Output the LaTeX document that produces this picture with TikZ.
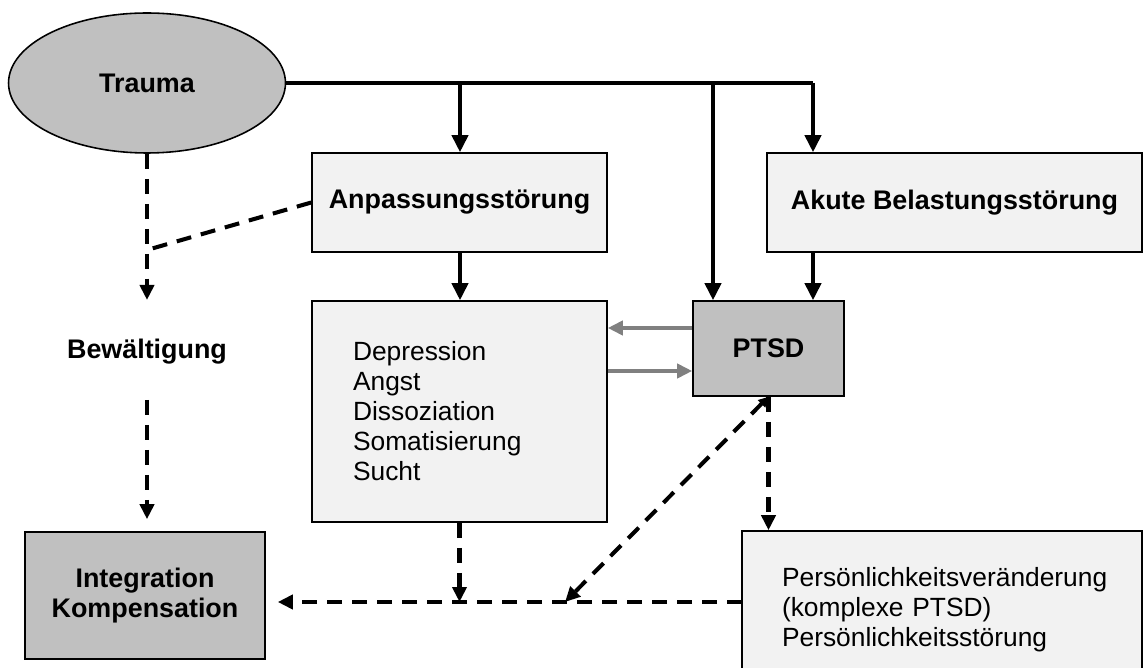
\documentclass[tikz,border=0pt]{standalone}
\usepackage{fontspec}
\setmainfont{Liberation Sans}
\usetikzlibrary{shapes.geometric,arrows.meta,calc}
\definecolor{lightfill}{HTML}{F2F2F2}
\definecolor{darkfill}{HTML}{C0C0C0}
\definecolor{arrgray}{HTML}{808080}
\begin{document}
\begin{tikzpicture}[x=0.02cm,y=-0.02cm,
  nfont/.style={font=\fontsize{15}{17.07}\selectfont},
  bfont/.style={font=\fontsize{15.3}{17.07}\selectfont\bfseries},
  lbox/.style={draw=black, line width=0.9pt, fill=lightfill, inner sep=0pt},
  gbox/.style={draw=black, line width=0.9pt, fill=darkfill, inner sep=0pt},
  solidln/.style={line width=2.2pt},
  solidarr/.style={solidln, -{Triangle[length=0.34cm,width=0.32cm]}},
  dashln/.style={line width=2.3pt, dash pattern=on 0.3cm off 0.2cm},
  dasharr/.style={dashln, -{Triangle[length=0.3cm,width=0.28cm]}},
  grayarr/.style={line width=2.2pt, draw=arrgray, -{Triangle[length=0.3cm,width=0.28cm]}}
]
\useasboundingbox (0,0) rectangle (1143,668);
\clip (0,0) rectangle (1143,668);

% nodes
\node[ellipse, draw=black, line width=0.9pt, fill=darkfill, minimum width=5.54cm, minimum height=2.8cm, inner sep=0pt, bfont] (trauma) at (147,83) {Trauma};
\node[lbox, bfont, minimum width=5.9cm, minimum height=1.98cm] (anp) at (459.5,202.5) {Anpassungsstörung};
\node[lbox, bfont, minimum width=7.5cm, minimum height=1.98cm] (akute) at (954.5,202.5) {Akute Belastungsstörung};
\node[lbox, nfont, minimum width=5.9cm, minimum height=4.42cm, inner xsep=0.82cm, text width=4.26cm, align=left] (dep) at (459.5,411.5) {Depression\\Angst\\Dissoziation\\Somatisierung\\Sucht};
\node[gbox, bfont, minimum width=3.02cm, minimum height=1.9cm] (ptsd) at (768.5,348.5) {PTSD};
\node[bfont, inner sep=0pt] (bew) at (147,352) {Bewältigung};
\node[gbox, bfont, minimum width=4.8cm, minimum height=2.54cm, align=center] (integ) at (145,595.5) {Integration\\Kompensation};
\node[lbox, nfont, minimum width=8cm, minimum height=3.16cm, inner xsep=0.8cm, text width=6.4cm, align=left] (pers) at (942,610) {Persönlichkeitsveränderung\\(komplexe PTSD)\\Persönlichkeitsstörung};

% solid connectors from Trauma
\coordinate (c1) at (460,83);
\coordinate (c2) at (713,83);
\coordinate (c3) at (813,83);
\draw[solidln] (trauma.east) -- (c3);
\draw[solidarr] (c1) -- (c1 |- anp.north);
\draw[solidarr] (c2) -- (c2 |- ptsd.north);
\draw[solidarr] (c3) -- (c3 |- akute.north);
\draw[solidarr] (anp.south -| c1) -- (dep.north -| c1);
\draw[solidarr] (akute.south -| c3) -- (ptsd.north -| c3);

% gray arrows
\coordinate (g1) at ($(ptsd.west)+(0,-20.5)$);
\coordinate (g2) at ($(ptsd.west)+(0,22.5)$);
\draw[grayarr] (g1) -- (g1 -| dep.east);
\draw[grayarr] (g2 -| dep.east) -- (g2);

% dashed left column
\coordinate (b1) at (147,250);
\coordinate (b2) at (147,300);
\coordinate (b3) at (147,400);
\draw[dasharr] (trauma.south -| b1) -- (b2);
\draw[dashln] (anp.west) -- (b1);
\draw[dasharr, shorten >=0.24cm] (b3) -- (b3 |- integ.north);

% dashed lower connectors
\coordinate (p1) at (742,602);
\coordinate (p2) at (565,602);
\draw[dasharr, shorten >=0.24cm] (p1) -- (p1 -| integ.east);
\draw[dasharr] (dep.south) -- (dep.south |- p1);
\draw[dashln, {Triangle[length=0.2cm,width=0.2cm]}-{Triangle[length=0.3cm,width=0.28cm]}] (ptsd.south) -- (p2);
\draw[dasharr] (ptsd.south) -- (ptsd.south |- pers.north);
\end{tikzpicture}
\end{document}
